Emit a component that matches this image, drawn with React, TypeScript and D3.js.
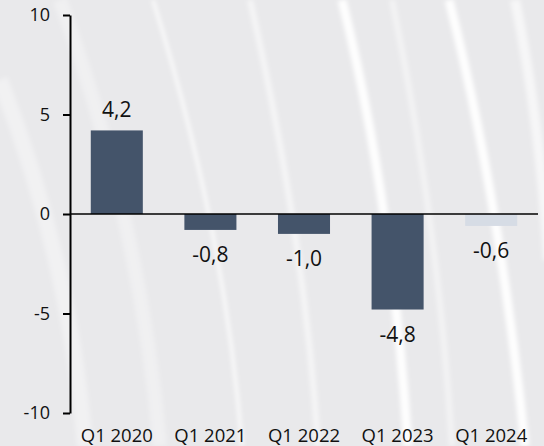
import React, { useEffect, useRef } from 'react';
import * as d3 from 'd3';

const categories = ['Q1 2020', 'Q1 2021', 'Q1 2022', 'Q1 2023', 'Q1 2024'];
const values = [4.2, -0.8, -1.0, -4.8, -0.6];
const valueLabels = ['4,2', '-0,8', '-1,0', '-4,8', '-0,6'];
const yTicks = [-10, -5, 0, 5, 10];

const App: React.FC = () => {
  const svgRef = useRef<SVGSVGElement>(null);

  useEffect(() => {
    if (!svgRef.current) return;
    const svg = d3.select(svgRef.current);
    svg.selectAll('*').remove();

    const W = 544;
    const H = 446;
    const font = '"Open Sans", "Noto Sans", sans-serif';

    // background
    const defs = svg.append('defs');
    defs
      .append('filter')
      .attr('id', 'blur')
      .attr('x', '-10%')
      .attr('width', '120%')
      .append('feGaussianBlur')
      .attr('stdDeviation', 2);
    svg.append('rect').attr('width', W).attr('height', H).attr('fill', '#e9e9eb');

    // soft white swooshes behind the chart
    const stripes = [
      { d: 'M0,80 Q70,260 85,446', w: 16, o: 0.35 },
      { d: 'M60,0 Q140,220 160,446', w: 14, o: 0.3 },
      { d: 'M153,0 Q225,230 242,446', w: 3, o: 0.9 },
      { d: 'M250,0 Q305,240 318,446', w: 6, o: 0.55 },
      { d: 'M342,0 Q392,200 408,446', w: 9, o: 0.95 },
      { d: 'M392,0 Q438,220 452,446', w: 6, o: 0.45 },
      { d: 'M449,0 Q500,200 525,446', w: 9, o: 0.95 },
      { d: 'M515,0 Q540,120 548,260', w: 10, o: 0.6 },
    ];
    const bg = svg.append('g').attr('filter', 'url(#blur)');
    stripes.forEach((s) => {
      bg.append('path')
        .attr('d', s.d)
        .attr('fill', 'none')
        .attr('stroke', '#ffffff')
        .attr('stroke-width', s.w)
        .attr('opacity', s.o);
    });

    const x = d3
      .scaleBand<string>()
      .domain(categories)
      .range([70, 538])
      .paddingInner(0.444)
      .paddingOuter(0.222);
    const y = d3.scaleLinear().domain([-10, 10]).range([413, 15]);

    // bars
    svg
      .selectAll('.bar')
      .data(values)
      .enter()
      .append('rect')
      .attr('x', (_, i) => x(categories[i]) || 0)
      .attr('y', (d) => y(Math.max(0, d)))
      .attr('width', x.bandwidth())
      .attr('height', (d) => Math.abs(y(d) - y(0)))
      .attr('fill', (_, i) => (i === values.length - 1 ? '#d6dce5' : '#44546a'));

    // value labels
    svg
      .selectAll('.val')
      .data(values)
      .enter()
      .append('text')
      .attr('x', (_, i) => (x(categories[i]) || 0) + x.bandwidth() / 2)
      .attr('y', (d) => (d >= 0 ? y(d) - 13 : y(d) + 32))
      .attr('text-anchor', 'middle')
      .style('font-family', font)
      .style('font-size', '21px')
      .style('fill', '#111')
      .text((_, i) => valueLabels[i]);

    // y axis
    const yAxis = svg
      .append('g')
      .attr('transform', 'translate(70,0)')
      .call(
        d3
          .axisLeft(y)
          .tickValues(yTicks)
          .tickFormat((d) => String(d))
          .tickSize(7)
          .tickSizeOuter(0)
          .tickPadding(13)
      );
    yAxis.select('.domain').attr('stroke', '#000').attr('stroke-width', 2);
    yAxis.selectAll('.tick line').attr('stroke', '#000').attr('stroke-width', 2);
    yAxis
      .selectAll('.tick text')
      .style('font-family', font)
      .style('font-size', '18px')
      .style('fill', '#111');

    // zero line
    svg
      .append('line')
      .attr('x1', 70)
      .attr('x2', 538)
      .attr('y1', y(0))
      .attr('y2', y(0))
      .attr('stroke', '#000')
      .attr('stroke-width', 1.5);

    // category labels
    svg
      .selectAll('.cat')
      .data(categories)
      .enter()
      .append('text')
      .attr('x', (d) => (x(d) || 0) + x.bandwidth() / 2)
      .attr('y', 442)
      .attr('text-anchor', 'middle')
      .style('font-family', font)
      .style('font-size', '18.5px')
      .style('fill', '#111')
      .text((d) => d);
  }, []);

  return (
    <svg
      ref={svgRef}
      width={544}
      height={446}
      style={{ position: 'absolute', left: 0, top: 0 }}
    ></svg>
  );
};

export default App;
